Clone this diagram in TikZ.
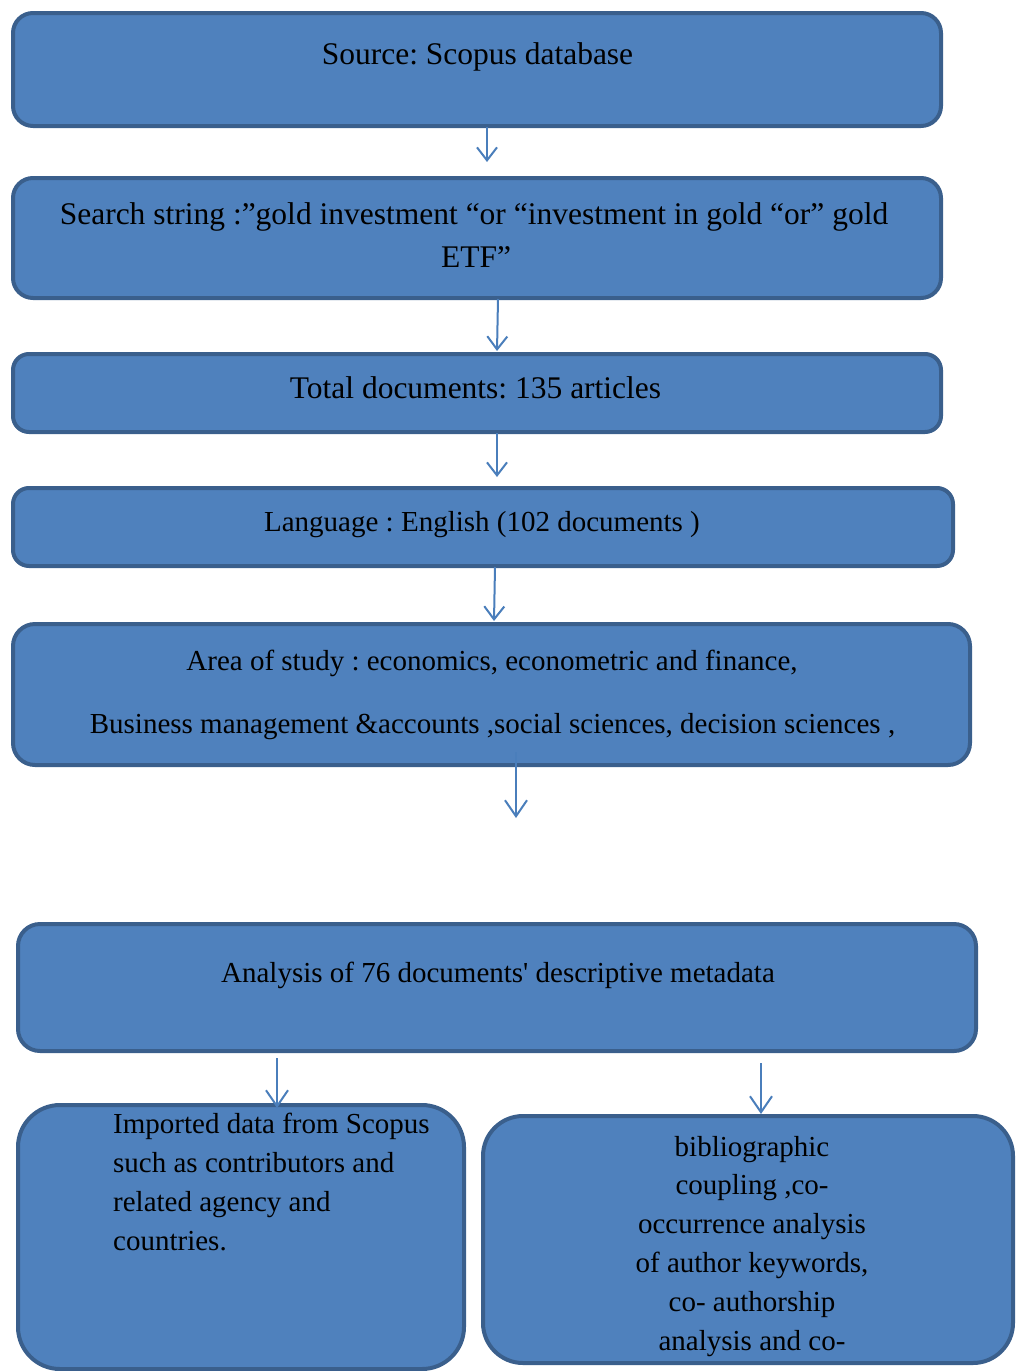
\documentclass[tikz,border=0pt]{standalone}
\usepackage{fontspec}
\setmainfont{Liberation Serif}
\usetikzlibrary{arrows.meta}
\definecolor{boxfill}{HTML}{4F81BD}
\definecolor{boxline}{HTML}{3A5F8C}
\definecolor{arrowc}{HTML}{4A7EBB}
\tikzset{
  box/.style={draw=boxline, fill=boxfill, line width=4pt},
  txt/.style={anchor=base, inner sep=0pt, text=black},
  arr/.style={draw=arrowc, line width=2pt, -{Straight Barb[length=16pt,width=22pt,line width=2pt]}},
  sarr/.style={draw=arrowc, line width=2pt, -{Straight Barb[length=13pt,width=20pt,line width=2pt]}}
}
\newcommand{\fbig}{\fontsize{31.5}{43}\selectfont}
\newcommand{\fmid}{\fontsize{29}{39}\selectfont}
\frenchspacing
\begin{document}
\begin{tikzpicture}[x=1pt,y=-1pt]
\useasboundingbox (0,0) rectangle (1016,1371);
\clip (0,0) rectangle (1016,1371);
% boxes
\draw[box, rounded corners=20pt] (13,13) rectangle (941,126);
\draw[box, rounded corners=20pt] (13,178) rectangle (941,298);
\draw[box, rounded corners=16pt] (13,354) rectangle (941,432);
\draw[box, rounded corners=16pt] (13,488) rectangle (953,566);
\draw[box, rounded corners=22pt] (13,624) rectangle (970,765);
\draw[box, rounded corners=22pt] (18,924) rectangle (976,1051);
\draw[box, rounded corners=42pt] (18,1105) rectangle (464,1369);
\draw[box, rounded corners=40pt] (483,1116) rectangle (1013,1363);
% texts
\node[txt, font=\fbig] (t1) at (477.5,64) {Source: Scopus database};
\node[txt, font=\fbig] (t2a) at (474,224) {Search string :”gold investment “or “investment in gold “or” gold};
\node[txt, font=\fbig] (t2b) at (476,267) {ETF”};
\node[txt, font=\fbig] (t3) at (475.5,398) {Total documents: 135 articles};
\node[txt, font=\fmid] (t4) at (482,531) {Language : English (102 documents )};
\node[txt, font=\fmid] (t5a) at (492,670) {Area of study : economics, econometric and finance,};
\node[txt, font=\fmid] (t5b) at (492.5,733) {Business management \&accounts ,social sciences, decision sciences ,};
\node[txt, font=\fmid] (t6) at (498,982) {Analysis of 76 documents\textquotesingle{} descriptive metadata};
\foreach \t [count=\i] in {Imported data from Scopus, such as contributors and, related agency and, countries.}
  \node[txt, anchor=base west, font=\fmid] (l\i) at (113,1133+39.3*\i-39.3) {\t};
\foreach \t [count=\i] in {bibliographic, {coupling ,co-}, occurrence analysis, {of author keywords,}, co- authorship, analysis and co-}
  \node[txt, font=\fmid] (r\i) at (752,1156+38.8*\i-38.8) {\t};
% arrows
\coordinate (e1s) at (487,127);  \coordinate (e1) at (487,162);
\coordinate (e2s) at (498,299);  \coordinate (e2) at (497,351);
\coordinate (e3s) at (497,433);  \coordinate (e3) at (497,477);
\coordinate (e4s) at (495,567);  \coordinate (e4) at (494,621);
\coordinate (e5s) at (516,752);  \coordinate (e5) at (516,818);
\coordinate (e6s) at (277,1058); \coordinate (e6) at (277,1108);
\coordinate (e7s) at (761,1063); \coordinate (e7) at (761,1114);
\draw[sarr] (e1s) -- (e1);
\draw[sarr] (e2s) -- (e2);
\draw[sarr] (e3s) -- (e3);
\draw[sarr] (e4s) -- (e4);
\draw[arr] (e5s) -- (e5);
\draw[arr] (e6s) -- (e6);
\draw[arr] (e7s) -- (e7);
\end{tikzpicture}
\end{document}
